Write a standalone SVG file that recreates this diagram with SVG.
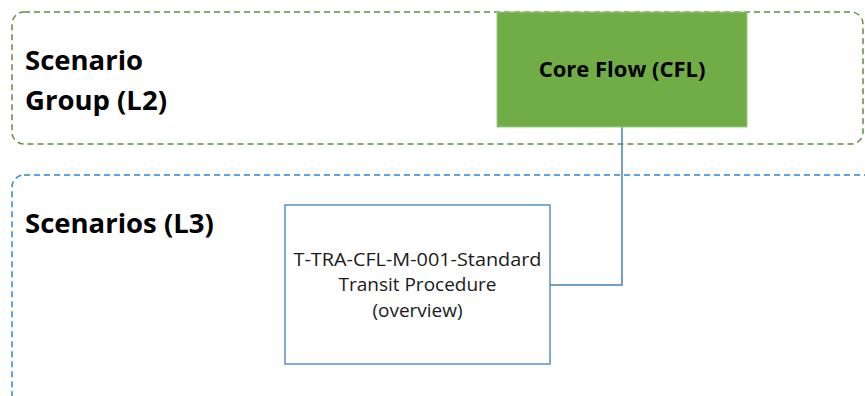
<svg xmlns="http://www.w3.org/2000/svg" width="865" height="396" viewBox="0 0 865 396">
<style>
.grp{fill:none;stroke-width:1.5;stroke-dasharray:6 4}
.lbl{font-family:"Open Sans","Liberation Sans",sans-serif;font-weight:bold;fill:#000}
.body{font-family:"Open Sans","Liberation Sans",sans-serif;fill:#1a1a1a;font-size:19px;text-anchor:middle}
</style>
<rect width="865" height="396" fill="#fff"/>
<g id="group-l2">
<rect class="grp" x="12" y="12" width="851" height="132" rx="12" stroke="#5f8f3e"/>
<text class="lbl" x="25" y="70" font-size="27.5">Scenario</text>
<text class="lbl" x="25" y="110" font-size="27.5">Group (L2)</text>
</g>
<g id="group-l3">
<rect class="grp" x="12" y="175" width="880" height="260" rx="12" stroke="#2b87d6"/>
<text class="lbl" x="25" y="233" font-size="27.5">Scenarios (L3)</text>
</g>
<g id="connectors">
<polyline points="622,127 622,285 550,285" fill="none" stroke="#4a7fb8" stroke-width="1.5"/>
</g>
<g id="node-cfl">
<rect x="497" y="12" width="250" height="115" fill="#70ad47" stroke="#9cc97e" stroke-width="1"/>
<text class="lbl" x="622" y="77" font-size="22" text-anchor="middle">Core Flow (CFL)</text>
</g>
<g id="node-scenario">
<rect x="285" y="205" width="265" height="159" fill="#fff" stroke="#5b8ec5" stroke-width="1.5"/>
<text class="body" x="417.5" y="266" textLength="248" lengthAdjust="spacingAndGlyphs">T-TRA-CFL-M-001-Standard</text>
<text class="body" x="417.5" y="291">Transit Procedure</text>
<text class="body" x="417.5" y="317">(overview)</text>
</g>
</svg>
